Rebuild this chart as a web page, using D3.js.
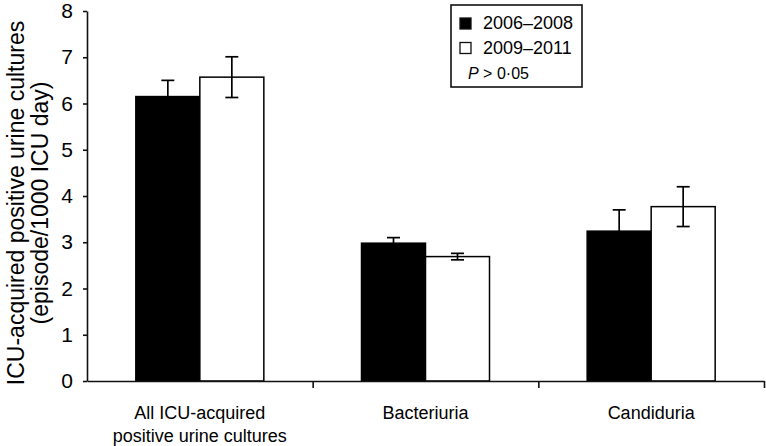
<!DOCTYPE html>
<html>
<head>
<meta charset="utf-8">
<script src="https://cdn.jsdelivr.net/npm/d3@7"></script>
<style>
  html, body { margin: 0; padding: 0; background: #fff; }
  svg { display: block; font-family: "Liberation Sans", Arial, Helvetica, sans-serif; }
</style>
</head>
<body>
<svg id="chart" width="766" height="446"></svg>
<script>
// ---- data ----
const categories = ["All ICU-acquired\npositive urine cultures", "Bacteriuria", "Candiduria"];
const seriesNames = ["2006–2008", "2009–2011"];
const values2006 = [6.15, 2.98, 3.24];
const errors2006 = [0.35, 0.12, 0.46];
const values2009 = [6.57, 2.69, 3.77];
const errors2009 = [0.44, 0.07, 0.43];
const yTicks = [0, 1, 2, 3, 4, 5, 6, 7, 8];
const yLabelLines = ["ICU-acquired positive urine cultures", "(episode/1000 ICU day)"];
const pText = "> 0·05";

// ---- layout ----
const svg = d3.select("#chart");
const plotLeft = 87, plotRight = 764, plotTop = 11, plotBottom = 381;

const y = d3.scaleLinear().domain([0, 8]).range([plotBottom, plotTop]);
const x0 = d3.scaleBand().domain(categories).range([plotLeft, plotRight]).paddingInner(0).paddingOuter(0);
const x1 = d3.scaleBand().domain(seriesNames).range([0, x0.bandwidth()]).paddingInner(0).paddingOuter(0.763);
const xEdges = d3.scaleLinear().domain([0, categories.length]).range([plotLeft, plotRight]);

const fills = { "2006–2008": "#000", "2009–2011": "#fff" };

const rows = [];
categories.forEach((c, i) => {
  rows.push({ cat: c, s: seriesNames[0], v: values2006[i], e: errors2006[i] });
  rows.push({ cat: c, s: seriesNames[1], v: values2009[i], e: errors2009[i] });
});

// bars
svg.append("g").selectAll("rect").data(rows).join("rect")
  .attr("x", d => x0(d.cat) + x1(d.s))
  .attr("y", d => y(d.v))
  .attr("width", x1.bandwidth())
  .attr("height", d => y(0) - y(d.v))
  .attr("fill", d => fills[d.s])
  .attr("stroke", "#000")
  .attr("stroke-width", 1.5);

// error bars
const capW = 6.5;
const eb = svg.append("g").attr("stroke", "#000").attr("stroke-width", 1.7).attr("fill", "none");
rows.forEach(d => {
  const cx = x0(d.cat) + x1(d.s) + x1.bandwidth() / 2;
  eb.append("line").attr("x1", cx).attr("x2", cx).attr("y1", y(d.v + d.e)).attr("y2", y(d.v - d.e));
  eb.append("line").attr("x1", cx - capW).attr("x2", cx + capW).attr("y1", y(d.v + d.e)).attr("y2", y(d.v + d.e));
  eb.append("line").attr("x1", cx - capW).attr("x2", cx + capW).attr("y1", y(d.v - d.e)).attr("y2", y(d.v - d.e));
});

// y axis
const yAxis = svg.append("g").attr("transform", `translate(${plotLeft},0)`)
  .call(d3.axisLeft(y).tickValues(yTicks).tickFormat(d3.format("d")).tickSize(4).tickPadding(10).tickSizeOuter(0));
yAxis.selectAll("text").attr("font-size", 21).attr("fill", "#000").attr("font-family", "Liberation Sans, Arial, sans-serif");
yAxis.selectAll("line, path").attr("stroke", "#111").attr("stroke-width", 1.6);

// x axis (ticks at category boundaries)
const xAxis = svg.append("g").attr("transform", `translate(0,${plotBottom})`)
  .call(d3.axisBottom(xEdges).tickValues(d3.range(1, categories.length + 1)).tickFormat("").tickSize(7).tickSizeOuter(0));
xAxis.selectAll("line, path").attr("stroke", "#111").attr("stroke-width", 1.6);

// x labels
const xl = svg.append("g").attr("font-size", 18).attr("text-anchor", "middle").attr("fill", "#000");
categories.forEach(c => {
  const t = xl.append("text").attr("x", x0(c) + x0.bandwidth() / 2).attr("y", 419);
  c.split("\n").forEach((line, i) => {
    t.append("tspan").attr("x", x0(c) + x0.bandwidth() / 2).attr("dy", i === 0 ? 0 : 23).text(line);
  });
});

// y label
const yl = svg.append("text").attr("transform", `translate(0,203) rotate(-90)`)
  .attr("text-anchor", "middle").attr("font-size", 23).attr("fill", "#000");
yLabelLines.forEach((line, i) => {
  yl.append("tspan").attr("x", 0).attr("y", 24 + i * 24).text(line);
});

// legend
const lg = svg.append("g");
lg.append("rect").attr("x", 451).attr("y", 5).attr("width", 131).attr("height", 82)
  .attr("fill", "#fff").attr("stroke", "#111").attr("stroke-width", 1.6);
seriesNames.forEach((s, i) => {
  lg.append("rect").attr("x", 460).attr("y", 18 + i * 24.5).attr("width", 11).attr("height", 11)
    .attr("fill", fills[s]).attr("stroke", "#111").attr("stroke-width", 1.3);
  lg.append("text").attr("x", 483).attr("y", 29 + i * 24.5).attr("font-size", 18).attr("fill", "#000").text(s);
});
const pt = lg.append("text").attr("x", 468).attr("y", 79).attr("font-size", 16).attr("fill", "#000");
pt.append("tspan").attr("font-style", "italic").text("P");
pt.append("tspan").text(" " + pText);
</script>
</body>
</html>
